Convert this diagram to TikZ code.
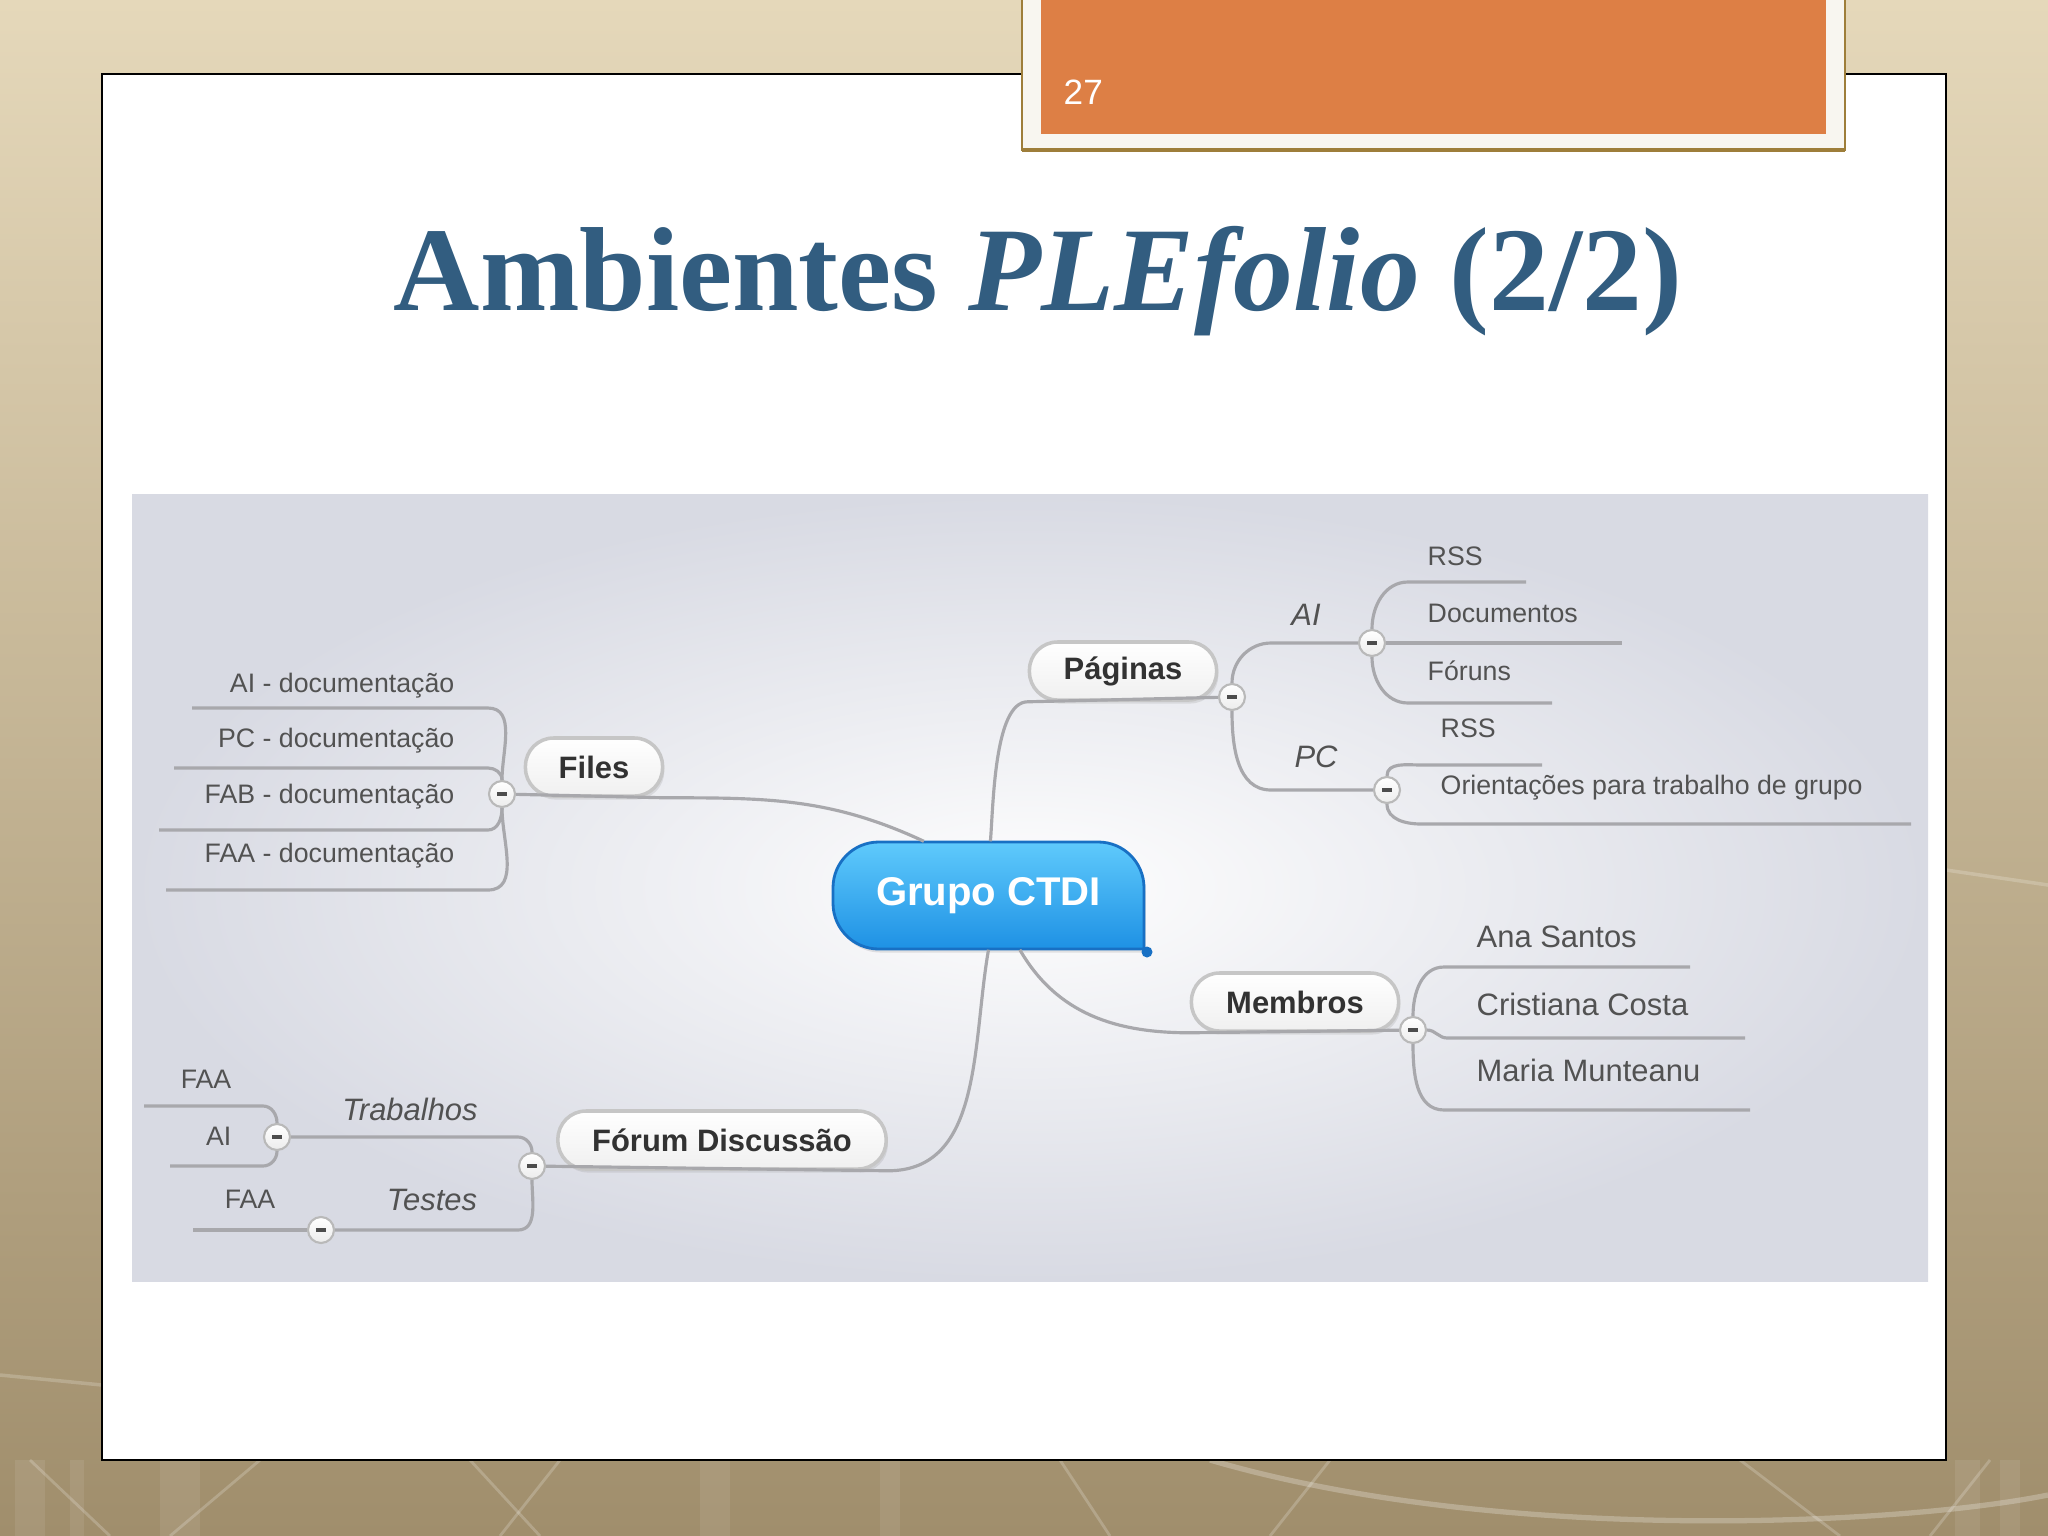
\documentclass[tikz,border=0pt]{standalone}
\usepackage{fontspec}
\setmainfont{Liberation Sans}
\newfontfamily\titlefont{Liberation Serif}
\usetikzlibrary{positioning, shadows, calc}

\definecolor{bgtop}{RGB}{229,216,186}
\definecolor{bgbottom}{RGB}{160,142,108}
\definecolor{slideorange}{RGB}{221,127,69}
\definecolor{frameivory}{RGB}{248,246,240}
\definecolor{framegold}{RGB}{158,126,58}
\definecolor{titleblue}{RGB}{50,93,128}
\definecolor{paneledge}{RGB}{216,218,227}
\definecolor{branchgray}{RGB}{168,168,172}
\definecolor{leafgray}{RGB}{82,82,82}
\definecolor{topictext}{RGB}{50,50,50}
\definecolor{ctditop}{RGB}{95,202,252}
\definecolor{ctdibottom}{RGB}{30,145,228}
\definecolor{ctdiedge}{RGB}{24,112,196}

\newcommand{\foldbar}{\textcolor{black!70}{\rule{0.1cm}{0.035cm}}}

\begin{document}
\begin{tikzpicture}[x=0.01cm, y=-0.01cm,
  topic/.style={draw=gray!45, line width=1pt, rounded corners=8pt,
    top color=white, bottom color=gray!12, minimum height=0.58cm,
    text=topictext, font=\fontsize{8.8}{10}\selectfont\bfseries,
    drop shadow={opacity=0.18, shadow xshift=0.5pt, shadow yshift=-1pt}},
  fold/.style={circle, draw=gray!55, line width=0.6pt, top color=white, bottom color=gray!15,
    inner sep=0pt, minimum size=0.26cm},
  branch/.style={draw=branchgray, line width=0.9pt},
  leaf/.style={inner sep=0pt, text=leafgray, font=\fontsize{7.6}{9}\selectfont},
  person/.style={leaf, font=\fontsize{8.8}{10}\selectfont},
  sublabel/.style={inner sep=0pt, text=leafgray, font=\fontsize{8.8}{10}\selectfont\itshape}]
\useasboundingbox (0,0) rectangle (2048,1536);

% background and slide
\shade[top color=bgtop, bottom color=bgbottom] (0,0) rectangle (2048,1536);
\foreach \x/\w in {15/30, 70/14, 1955/25, 2000/20, 160/40, 700/30, 880/20}
  \fill[white, opacity=0.08] (\x,1460) rectangle ++(\w,76);
\foreach \xa/\xb in {30/110, 260/170, 470/540, 560/500, 1060/1110, 1330/1270, 1740/1840, 1990/1930}
  \draw[white, opacity=0.2, line width=0.8pt] (\xa,1460) -- (\xb,1536);
\draw[white, opacity=0.25, line width=1.5pt] (1210,1460) .. controls (1500,1545) and (1900,1525) .. (2048,1495);
\draw[white, opacity=0.2, line width=1pt] (0,1375) -- (102,1385);
\draw[white, opacity=0.2, line width=1pt] (1946,870) -- (2048,885);
\fill[white] (102,74) rectangle (1946,1460);
\draw[black, line width=0.8pt] (102,74) rectangle (1946,1460);

% page number box
\filldraw[fill=frameivory, draw=framegold, line width=0.5pt] (1022,-5) rectangle (1845,150);
\draw[framegold, line width=1.3pt] (1022,150) -- (1845,150);
\fill[slideorange] (1041,0) rectangle (1826,134);
\node[anchor=west, inner sep=0pt, text=white, font=\fontsize{10}{12}\selectfont] (pagenum) at (1063,92) {27};

% title
\node[anchor=base, text=titleblue, font=\titlefont\fontsize{34}{40}\selectfont\bfseries] (title) at (1038,310) {Ambientes \textit{PLEfolio} (2/2)};

% mind map panel
\fill[paneledge] (132,494) rectangle (1928,1281);
\shade[inner color=white!97!paneledge, outer color=paneledge] (132,494) rectangle (1928,1281);

% central topic, square lower right corner
\path[top color=ctditop, bottom color=ctdibottom, draw=ctdiedge, line width=0.8pt,
  drop shadow={opacity=0.2, shadow xshift=0.5pt, shadow yshift=-1pt}]
  (1144,949) [rounded corners=13pt] -- (1144,842) -- (833,842) -- (833,949) [sharp corners] -- cycle;
\node[minimum width=3.11cm, minimum height=1.07cm, text=white, font=\fontsize{11.4}{13}\selectfont\bfseries] (ctdi) at (988.5,895.5) {Grupo CTDI};
\node[circle, fill=ctdiedge, inner sep=0pt, minimum size=0.11cm] (ctdidot) at (1147,952) {};

% topics
\node[topic, minimum width=1.37cm] (files) at (594,767) {Files};
\node[topic, minimum width=1.87cm] (paginas) at (1123,671) {Páginas};
\node[topic, minimum width=2.07cm] (membros) at (1295,1002) {Membros};
\node[topic, minimum width=3.28cm] (forum) at (722,1140) {Fórum Discussão};

% fold buttons
\node[fold] (cfiles) at (502,794) {\foldbar};
\node[fold] (cpag) at (1232,697) {\foldbar};
\node[fold] (cai) at (1372,643) {\foldbar};
\node[fold] (cpc) at (1387,790) {\foldbar};
\node[fold] (cmem) at (1413,1030) {\foldbar};
\node[fold] (cfor) at (532,1166) {\foldbar};
\node[fold] (ctrab) at (277,1137) {\foldbar};
\node[fold] (ctest) at (321,1230) {\foldbar};

% main branches
\draw[branch] (ctdi.140) to[out=155,in=0] (files.south east) -- (cfiles);
\draw[branch] (ctdi.88) to[out=85,in=180,looseness=0.6] (paginas.south west) -- (cpag);
\draw[branch] (ctdi.-60) to[out=-60,in=180] (membros.south west) -- (cmem);
\draw[branch] (ctdi.south) to[out=-100,in=0] (forum.south east) -- (cfor);

% Files
\node[leaf, anchor=base east] (fai) at (455,692) {AI - documentação};
\node[leaf, anchor=base east] (fpc) at (455,747) {PC - documentação};
\node[leaf, anchor=base east] (ffab) at (455,803) {FAB - documentação};
\node[leaf, anchor=base east] (ffaa) at (455,862) {FAA - documentação};
\coordinate (fai-end) at (192,708);
\coordinate (fpc-end) at (174,768);
\coordinate (ffab-end) at (159,830);
\coordinate (ffaa-end) at (166,890);
\draw[branch] (cfiles.north) to[out=90,in=0] (fai-end -| cfiles.west) -- (fai-end);
\draw[branch] (cfiles.north) to[out=90,in=0] (fpc-end -| cfiles.west) -- (fpc-end);
\draw[branch] (cfiles.south) to[out=-90,in=0] (ffab-end -| cfiles.west) -- (ffab-end);
\draw[branch] (cfiles.south) to[out=-90,in=0] (ffaa-end -| cfiles.west) -- (ffaa-end);

% Paginas
\node[sublabel] (pai) at (1306,615) {AI};
\node[sublabel] (ppc) at (1316,757) {PC};
\draw[branch] (cpag.north) to[out=90,in=180] ($(cai -| cpag.east)+(25,0)$) -- (cai);
\draw[branch] (cpag.south) to[out=-90,in=180] ($(cpc -| cpag.east)+(25,0)$) -- (cpc);
\node[leaf, anchor=base west] (ars) at (1427,565) {RSS};
\node[leaf, anchor=base west] (adoc) at (1427,622) {Documentos};
\node[leaf, anchor=base west] (afor) at (1427,680) {Fóruns};
\coordinate (ars-end) at (1526,582);
\coordinate (adoc-end) at (1622,643);
\coordinate (afor-end) at (1552,703);
\draw[branch] (cai.north) to[out=90,in=180] ($(ars-end -| cai.east)+(22,0)$) -- (ars-end);
\draw[branch] (cai) -- (adoc-end);
\draw[branch] (cai.south) to[out=-90,in=180] ($(afor-end -| cai.east)+(22,0)$) -- (afor-end);
\node[leaf, anchor=base west] (prss) at (1440,737) {RSS};
\node[leaf, anchor=base west] (pori) at (1440,794) {Orientações para trabalho de grupo};
\coordinate (prss-end) at (1542,765);
\coordinate (pori-end) at (1911,824);
\draw[branch] (cpc.north) to[out=90,in=180] ($(prss-end -| cpc.east)+(20,0)$) -- (prss-end);
\draw[branch] (cpc.south) to[out=-90,in=180] ($(pori-end -| cpc.east)+(20,0)$) -- (pori-end);

% Membros
\node[person, anchor=base west] (mana) at (1476,947) {Ana Santos};
\node[person, anchor=base west] (mcri) at (1476,1015) {Cristiana Costa};
\node[person, anchor=base west] (mmar) at (1476,1081) {Maria Munteanu};
\coordinate (mana-end) at (1690,967);
\coordinate (mcri-end) at (1745,1038);
\coordinate (mmar-end) at (1750,1110);
\draw[branch] (cmem.north) to[out=90,in=180] ($(mana-end -| cmem.east)+(17,0)$) -- (mana-end);
\draw[branch] (cmem.east) to[out=0,in=180] ++(20,8) -- (mcri-end);
\draw[branch] (cmem.south) to[out=-90,in=180] ($(mmar-end -| cmem.east)+(17,0)$) -- (mmar-end);

% Forum
\node[sublabel] (trab) at (410,1109) {Trabalhos};
\node[sublabel] (test) at (432,1200) {Testes};
\draw[branch] (cfor.north) to[out=90,in=0] (ctrab -| cfor.west) -- (ctrab);
\draw[branch] (cfor.south) to[out=-90,in=0] (ctest -| cfor.west) -- (ctest);
\node[leaf, anchor=base east] (tfaa) at (232,1088) {FAA};
\node[leaf, anchor=base east] (tai) at (232,1145) {AI};
\node[leaf, anchor=base east] (sfaa) at (276,1208) {FAA};
\coordinate (tfaa-end) at (144,1106);
\coordinate (tai-end) at (170,1166);
\coordinate (sfaa-end) at (193,1230);
\draw[branch] (ctrab.north) to[out=90,in=0] (tfaa-end -| ctrab.west) -- (tfaa-end);
\draw[branch] (ctrab.south) to[out=-90,in=0] (tai-end -| ctrab.west) -- (tai-end);
\draw[branch] (ctest) -- (sfaa-end);
\end{tikzpicture}
\end{document}
